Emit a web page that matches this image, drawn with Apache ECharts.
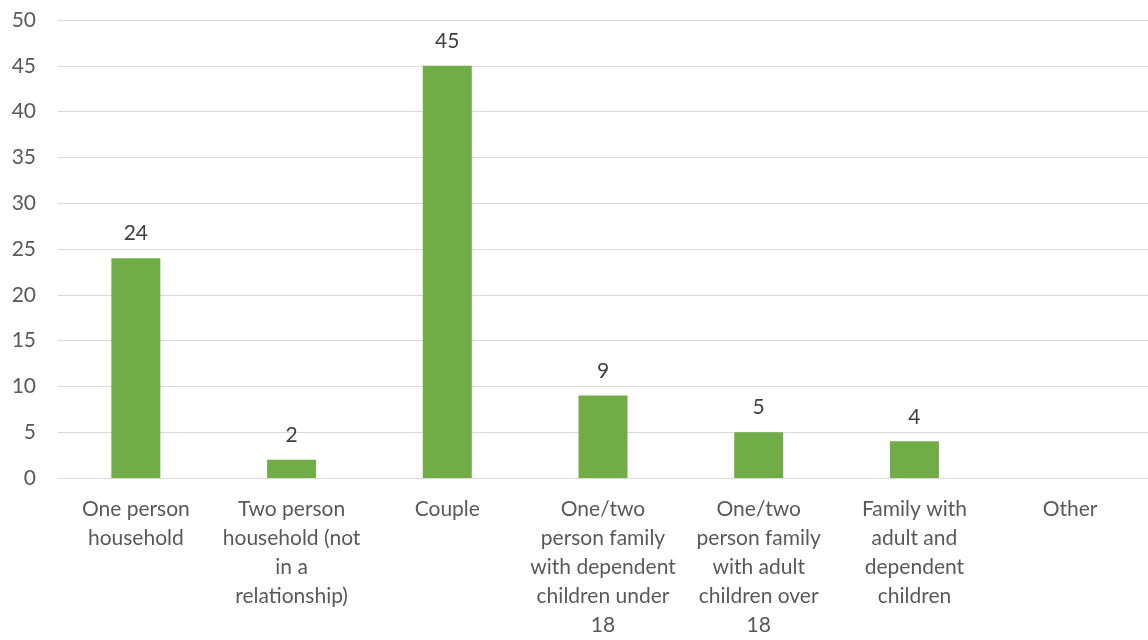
<!DOCTYPE html>
<html>
<head>
<meta charset="utf-8">
<title>Household type</title>
<script src="https://cdn.jsdelivr.net/npm/echarts@6/dist/echarts.min.js"></script>
<style>
  html, body { margin: 0; padding: 0; background: #fff; }
  #chart { width: 1148px; height: 640px; }
</style>
</head>
<body>
<div id="chart"></div>
<script>
// categories, wrapped the way the original axis shows them
const categories = [
  'One person\nhousehold',
  'Two person\nhousehold (not\nin a\nrelationship)',
  'Couple',
  'One/two\nperson family\nwith dependent\nchildren under\n18',
  'One/two\nperson family\nwith adult\nchildren over\n18',
  'Family with\nadult and\ndependent\nchildren',
  'Other'
]
const values = [24, 2, 45, 9, 5, 4, null]
const yTicks = { min: 0, max: 50, interval: 5 }

const textColor = '#595959'
const fontFamily = 'Lato, "Open Sans", sans-serif'

const chart = echarts.init(document.getElementById('chart'))

const option = {
  animation: false,
  textStyle: { fontFamily: fontFamily },
  grid: { left: 58, right: 0, top: 20, bottom: 160, containLabel: false },
  xAxis: {
    type: 'category',
    data: categories,
    axisTick: { show: false },
    axisLine: { lineStyle: { color: '#d9d9d9', width: 1 } },
    axisLabel: {
      interval: 0,
      margin: 17,
      color: textColor,
      fontSize: 21,
      lineHeight: 29,
      fontFamily: fontFamily
    }
  },
  yAxis: {
    type: 'value',
    min: yTicks.min,
    max: yTicks.max,
    interval: yTicks.interval,
    axisLine: { show: false },
    axisTick: { show: false },
    splitLine: { lineStyle: { color: '#d9d9d9', width: 1 } },
    axisLabel: {
      margin: 22,
      color: textColor,
      fontSize: 21,
      fontFamily: fontFamily
    }
  },
  series: [
    {
      type: 'bar',
      data: values,
      barWidth: 49,
      itemStyle: { color: '#70ad47' },
      label: {
        show: true,
        position: 'top',
        distance: 14,
        color: '#404040',
        fontSize: 21,
        fontFamily: fontFamily
      }
    }
  ]
}

chart.setOption(option)
</script>
</body>
</html>
